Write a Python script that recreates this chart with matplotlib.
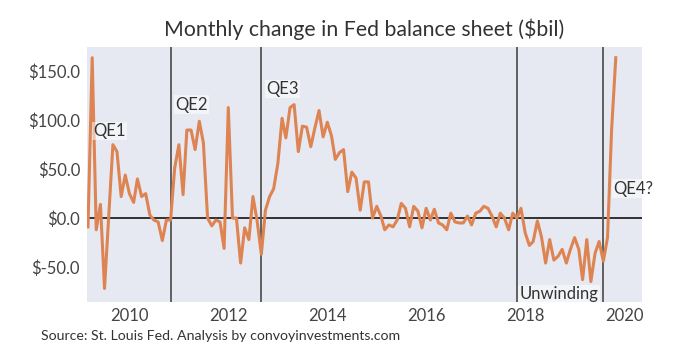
import matplotlib
matplotlib.use("Agg")
import matplotlib.pyplot as plt
import matplotlib.dates as mdates
import pandas as pd

plt.rcParams['font.family'] = ['Lato', 'DejaVu Sans']

start_month = "2009-03-01"
values = [
    -9, 164, -12, 14, -72, 2, 75, 68, 22, 44,
    25, 16, 40, 22, 25, 3, -2, -4, -23, -2,
    -2, 51, 75, 24, 90, 90, 70, 99, 77, 0,
    -8, -2, -4, -31, 113, 0, 0, -46, -10, -22,
    22, -3, -37, 8, 22, 30, 56, 102, 82, 113,
    116, 68, 94, 93, 73, 92, 110, 83, 98, 84,
    60, 67, 70, 27, 47, 41, 8, 37, 37, 0,
    12, 2, -12, -7, -9, -2, 15, 10, -9, 12,
    7, -10, 10, -2, 9, -5, -7, -12, 5, -4,
    -5, -5, 2, -7, 5, 7, 12, 10, 2, -9,
    5, 0, -12, 5, 0, 10, -15, -28, -24, -3,
    -19, -46, -22, -43, -39, -32, -46, -32, -20, -32,
    -63, -22, -65, -36, -24, -44, -20, 90, 164,
]
event_dates = ["2010-11-01", "2012-09-01", "2017-11-01", "2019-08-01"]
labels = ["QE1", "QE2", "QE3", "Unwinding", "QE4?"]
label_x = ["2009-04-10", "2010-12-05", "2012-10-05", "2017-11-20", "2019-10-15"]
label_y = [89, 116, 132, -78, 30]
yticks = [-50, 0, 50, 100, 150]

dates = pd.date_range(start_month, periods=len(values), freq="MS")

fig = plt.figure(figsize=(6.8, 3.61), dpi=100)
ax = fig.add_axes([0.128, 0.163, 0.816, 0.707])
ax.set_facecolor("#E6E9F2")
for s in ax.spines.values():
    s.set_visible(False)

ax.plot(dates, values, color="#DD8452", lw=2.2, zorder=3)
ax.axhline(0, color="#222222", lw=1.3, zorder=2)
for d in event_dates:
    ax.axvline(pd.Timestamp(d), color="#555555", lw=1.3, zorder=2)

for t, x, y in zip(labels, label_x, label_y):
    ax.text(pd.Timestamp(x), y, t, fontsize=12, color="#333333", va="center", ha="left",
            zorder=4, bbox=dict(facecolor="white", alpha=0.5, edgecolor="none", pad=1))

ax.set_xlim(pd.Timestamp("2009-02-22"), pd.Timestamp("2020-05-12"))
ax.set_ylim(-86, 175)
ax.set_yticks(yticks)
ax.set_yticklabels([f"${v:.1f}" for v in yticks])
ax.xaxis.set_major_locator(mdates.YearLocator(2))
ax.xaxis.set_major_formatter(mdates.DateFormatter("%Y"))
ax.tick_params(length=0, labelsize=12, labelcolor="#444444", pad=5)
ax.tick_params(axis="x", pad=4)

ax.set_title("Monthly change in Fed balance sheet ($bil)", fontsize=15.3, color="#333333", pad=8)
fig.text(0.06, 0.07, "Source: St. Louis Fed. Analysis by convoyinvestments.com",
         fontsize=10.2, color="#333333", va="center", ha="left")

fig.savefig("out.png", dpi=100)
